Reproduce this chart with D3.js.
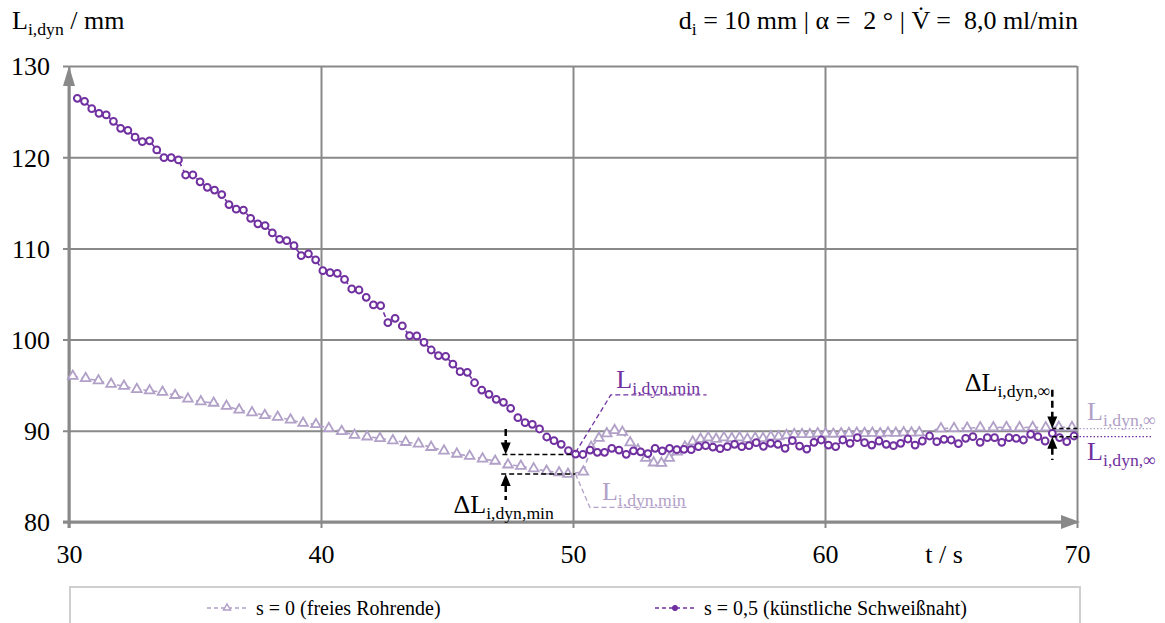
<!DOCTYPE html>
<html>
<head>
<meta charset="utf-8">
<script src="https://cdn.jsdelivr.net/npm/d3@7"></script>
<style>
  body { margin: 0; background: #fff; }
  svg text { font-family: "Liberation Serif", "Times New Roman", Times, "DejaVu Serif", serif !important; white-space: pre; }
</style>
</head>
<body>
<svg id="chart" width="1165" height="623"></svg>
<script>
// ---- data -------------------------------------------------------------
const xTicks = [30, 40, 50, 60, 70];
const yTicks = [80, 90, 100, 110, 120, 130];

// s = 0,5 (künstliche Schweißnaht): constant frame step
const weldStart = 30.33;
const weldStep = 0.2866;
const weldValues = [
  126.46, 126.13, 125.32, 124.81, 124.63, 123.93, 123.17, 122.95, 122.2, 121.7,
  121.8, 120.8, 119.95, 119.95, 119.7, 118.05, 118.05, 117.3, 116.7, 116.4,
  115.9, 114.8, 114.3, 114.2, 113.3, 112.7, 112.5, 111.7, 111.0, 110.85,
  110.3, 109.2, 109.4, 108.75, 107.56, 107.34, 107.27, 106.6, 105.55, 105.44,
  104.64, 103.8, 103.72, 101.86, 102.33, 101.5, 100.43, 100.4, 99.7, 98.86,
  98.24, 98.17, 97.3, 96.48, 96.41, 95.27, 94.47, 94.0, 93.45, 93.12,
  92.46, 91.44, 90.89, 90.71, 90.2, 89.32, 88.92, 88.52, 87.82, 87.45,
  87.4, 87.89, 87.64, 87.64, 88.08, 87.89, 87.42, 87.8, 87.7, 87.5,
  88.08, 87.8, 88.08, 87.93, 87.97, 87.93, 88.26, 88.37, 88.22, 88.04,
  88.26, 88.52, 88.26, 88.37, 88.7, 88.3, 88.63, 88.52, 88.08, 88.92,
  88.33, 88.0, 88.74, 88.99, 88.44, 88.26, 88.99, 88.63, 89.25, 88.7,
  88.44, 88.88, 88.52, 88.37, 88.63, 89.1, 88.44, 88.88, 89.43, 88.81,
  89.07, 88.99, 88.59, 89.18, 89.36, 88.74, 89.25, 89.25, 88.74, 89.25,
  89.18, 88.99, 89.61, 89.36, 88.88, 89.72, 89.25, 88.81, 89.43
];

// s = 0 (freies Rohrende): time stamps and lengths
const freeTimes = [
  30.15, 30.66, 31.17, 31.67, 32.18, 32.69, 33.2, 33.71, 34.21, 34.72,
  35.23, 35.74, 36.25, 36.75, 37.26, 37.77, 38.28, 38.79, 39.29, 39.8,
  40.31, 40.82, 41.33, 41.83, 42.34, 42.85, 43.36, 43.87, 44.37, 44.88,
  45.39, 45.9, 46.41, 46.91, 47.42, 47.93, 48.44, 48.95, 49.45, 49.8,
  50.41, 50.72, 51.03, 51.34, 51.65, 51.96, 52.27, 52.58, 52.89, 53.2,
  53.51, 53.82, 54.13, 54.44, 54.75, 55.06, 55.37, 55.68, 55.99, 56.3,
  56.61, 56.92, 57.23, 57.54, 57.85, 58.16, 58.47, 58.78, 59.09, 59.4,
  59.71, 60.02, 60.33, 60.64, 60.95, 61.26, 61.57, 61.88, 62.19, 62.5,
  62.81, 63.12, 63.43, 63.74, 64.6, 65.12, 65.64, 66.16, 66.68, 67.2,
  67.72, 68.24, 68.76, 69.28, 69.8
];
const freeValues = [
  96.0, 95.75, 95.5, 95.13, 94.9, 94.55, 94.4, 94.25, 93.9, 93.5,
  93.2, 93.05, 92.7, 92.3, 92.0, 91.7, 91.5, 91.2, 90.85, 90.7,
  90.27, 89.95, 89.52, 89.35, 89.18, 88.93, 88.75, 88.57, 88.2, 87.8,
  87.46, 87.22, 86.93, 86.69, 86.28, 86.14, 85.85, 85.59, 85.41, 85.26,
  85.5, 88.2, 89.2, 89.7, 90.05, 89.85, 88.7, 87.9, 87.0, 86.5,
  86.45, 87.0, 87.7, 88.25, 88.8, 89.1, 89.25, 89.1, 89.25, 89.18,
  89.25, 89.1, 89.2, 89.18, 89.36, 89.36, 89.5, 89.6, 89.6, 89.6,
  89.7, 89.7, 89.65, 89.7, 89.72, 89.75, 89.72, 89.75, 89.7, 89.78,
  89.75, 89.8, 89.78, 89.8, 90.25, 90.27, 90.3, 90.35, 90.35, 90.38,
  90.36, 90.38, 90.35, 90.4, 90.38
];

// steady-state levels
const steadyFree = 90.24;
const steadyWeld = 89.36;

// ---- setup ------------------------------------------------------------
const colWeld = "#7030a0";
const colFree = "#b1a0c7";
const colGrid = "#898989";
const serif = "'Liberation Serif', 'Times New Roman', Times, serif";

const svg = d3.select("#chart");
const x = d3.scaleLinear().domain([30, 70]).range([69, 1077]);
const y = d3.scaleLinear().domain([80, 130]).range([522, 66]);

const weld = weldValues.map((v, i) => ({ t: weldStart + i * weldStep, v }));
const free = freeValues.map((v, i) => ({ t: freeTimes[i], v }));

// ---- grid & axes ------------------------------------------------------
const xAxis = d3.axisBottom(x).tickValues(xTicks).tickSize(0).tickFormat(d3.format("d"));
const gx = svg.append("g").attr("transform", `translate(0,${y(80)})`).call(xAxis)
  .attr("font-family", serif).attr("font-size", 26);
gx.select(".domain").remove();
gx.selectAll(".tick line")
  .attr("y1", 6).attr("y2", y(130) - y(80))
  .attr("stroke", colGrid).attr("stroke-width", 2);
gx.selectAll(".tick text")
  .attr("y", 41).attr("dy", 0).attr("fill", "#000");

const yAxis = d3.axisLeft(y).tickValues(yTicks).tickSize(0).tickFormat(d3.format("d"));
const gy = svg.append("g").attr("transform", `translate(${x(30)},0)`).call(yAxis)
  .attr("font-family", serif).attr("font-size", 26);
gy.select(".domain").remove();
gy.selectAll(".tick line")
  .attr("x1", -6).attr("x2", x(70) - x(30))
  .attr("stroke", colGrid).attr("stroke-width", 2);
gy.selectAll(".tick text")
  .attr("x", -19).attr("dy", "0.34em").attr("fill", "#000");

// axis lines with arrow heads
svg.append("line")
  .attr("x1", x(30) - 6).attr("x2", x(70) - 14)
  .attr("y1", y(80)).attr("y2", y(80))
  .attr("stroke", colGrid).attr("stroke-width", 3);
svg.append("path")
  .attr("d", `M${x(70) - 16},${y(80) - 7} L${x(70) + 3},${y(80)} L${x(70) - 16},${y(80) + 7} Z`)
  .attr("fill", colGrid);
svg.append("line")
  .attr("x1", x(30)).attr("x2", x(30))
  .attr("y1", y(80) + 6).attr("y2", y(130) + 16)
  .attr("stroke", colGrid).attr("stroke-width", 3);
svg.append("path")
  .attr("d", `M${x(30) - 6},${y(130) + 20} L${x(30)},${y(130)} L${x(30) + 6},${y(130) + 20} Z`)
  .attr("fill", colGrid);

svg.append("text").attr("x", 944).attr("y", y(80) + 41).attr("text-anchor", "middle")
  .attr("font-family", serif).attr("font-size", 26).text("t / s");

// ---- text helper with subscript ---------------------------------------
function label(g, px, py, parts, opts = {}) {
  const t = g.append("text").attr("x", px).attr("y", py)
    .attr("font-family", serif)
    .attr("font-size", opts.size || 26)
    .attr("fill", opts.color || "#000")
    .attr("text-anchor", opts.anchor || "start");
  let shifted = false;
  parts.forEach(p => {
    if (p.sub) {
      t.append("tspan").attr("font-size", "0.68em").attr("dy", 6).text(p.sub);
      shifted = true;
    } else {
      const s = t.append("tspan").text(p.t);
      if (shifted) { s.attr("dy", -6); shifted = false; }
    }
  });
  return t;
}

// headers
label(svg, 12, 29, [{ t: "L" }, { sub: "i,dyn" }, { t: " / mm" }]);
label(svg, 1078, 29,
  [{ t: "d" }, { sub: "i" }, { t: " = 10 mm | \u03b1 =  2 \u00b0 | V\u0307 =  8,0 ml/min" }],
  { anchor: "end" });

// ---- series -----------------------------------------------------------
const lineGen = d3.line().x(d => x(d.t)).y(d => y(d.v));

svg.append("path").datum(free).attr("d", lineGen)
  .attr("fill", "none").attr("stroke", colFree).attr("stroke-width", 1.6)
  .attr("stroke-dasharray", "5,4");
const triSym = d3.symbol().type(d3.symbolTriangle).size(40);
svg.append("g").selectAll("path").data(free).join("path")
  .attr("transform", d => `translate(${x(d.t)},${y(d.v)})`)
  .attr("d", triSym)
  .attr("fill", "#fff").attr("stroke", colFree).attr("stroke-width", 1.8);

svg.append("path").datum(weld).attr("d", lineGen)
  .attr("fill", "none").attr("stroke", colWeld).attr("stroke-width", 1.6)
  .attr("stroke-dasharray", "5,4");
svg.append("g").selectAll("circle").data(weld).join("circle")
  .attr("cx", d => x(d.t)).attr("cy", d => y(d.v)).attr("r", 3.4)
  .attr("fill", "#fff").attr("stroke", colWeld).attr("stroke-width", 2);

// ---- annotations ------------------------------------------------------
const ann = svg.append("g");
const weldMin = d3.min(weldValues);
const freeMin = d3.min(freeValues);

function arrowHead(px, tipY, dir) {
  // dir = +1: pointing down, -1: pointing up
  ann.append("path")
    .attr("d", `M${px - 5},${tipY - dir * 12} L${px},${tipY} L${px + 5},${tipY - dir * 12} Z`)
    .attr("fill", "#000");
}
function dashed(x1, y1, x2, y2, color, w, dash) {
  ann.append("line").attr("x1", x1).attr("y1", y1).attr("x2", x2).attr("y2", y2)
    .attr("stroke", color).attr("stroke-width", w).attr("stroke-dasharray", dash);
}

// ΔL_i,dyn,min
const aX = x(47.33);
dashed(x(47.2), y(weldMin), x(50.0), y(weldMin), "#000", 1.5, "5,3");
dashed(x(47.15), y(freeMin), x(50.1), y(freeMin), "#000", 1.5, "5,3");
dashed(aX, y(90.2), aX, y(weldMin) - 11, "#000", 2.5, "7,4");
arrowHead(aX, y(weldMin), 1);
arrowHead(aX, y(freeMin), -1);
dashed(aX, y(freeMin) + 11, aX, y(82.4), "#000", 2.5, "7,4");
label(ann, x(47.25), y(81.0), [{ t: "\u0394L" }, { sub: "i,dyn,min" }], { anchor: "middle" });

// L_i,dyn,min leaders
ann.append("path")
  .attr("d", `M${x(50.1)},${y(weldMin) - 2} L${x(51.5)},${y(93.93)} L${x(55.3)},${y(93.93)}`)
  .attr("fill", "none").attr("stroke", colWeld).attr("stroke-width", 1.3).attr("stroke-dasharray", "5,3");
label(ann, x(51.72), y(93.93) - 7, [{ t: "L" }, { sub: "i,dyn,min" }], { color: colWeld });
ann.append("path")
  .attr("d", `M${x(50.1)},${y(freeMin)} L${x(50.67)},${y(81.6)} L${x(54.6)},${y(81.6)}`)
  .attr("fill", "none").attr("stroke", colFree).attr("stroke-width", 1.3).attr("stroke-dasharray", "5,3");
label(ann, x(51.15), y(81.6) - 7, [{ t: "L" }, { sub: "i,dyn,min" }], { color: colFree });

// ΔL_i,dyn,∞
const bX = x(69.02);
dashed(bX, y(94.5), bX, y(steadyFree) - 11, "#000", 2.5, "7,4");
arrowHead(bX, y(steadyFree), 1);
arrowHead(bX, y(steadyWeld), -1);
dashed(bX, y(steadyWeld) + 11, bX, y(86.8), "#000", 2.5, "7,4");
dashed(bX, y(steadyFree), x(70.1), y(steadyFree), "#000", 1.5, "4,3");
dashed(bX, y(steadyWeld), x(70.1), y(steadyWeld), "#000", 1.5, "4,3");
dashed(x(70.1), y(steadyFree), x(73.0), y(steadyFree), colFree, 1.3, "1.5,2");
dashed(x(70.1), y(steadyWeld), x(73.0), y(steadyWeld), colWeld, 1.3, "1.5,2");
label(ann, bX - 2, y(94.35), [{ t: "\u0394L" }, { sub: "i,dyn,\u221e" }], { anchor: "end" });
label(ann, x(70.4), y(91.15), [{ t: "L" }, { sub: "i,dyn,\u221e" }], { color: colFree });
label(ann, x(70.4), y(86.8), [{ t: "L" }, { sub: "i,dyn,\u221e" }], { color: colWeld });

// ---- legend -----------------------------------------------------------
const lg = svg.append("g");
lg.append("rect").attr("x", 70).attr("y", 587).attr("width", 1010).attr("height", 60)
  .attr("fill", "#fff").attr("stroke", "#cfcfcf").attr("stroke-width", 2);
const legendItems = [
  { x0: 207, color: colFree, kind: "tri", text: "s = 0 (freies Rohrende)" },
  { x0: 655, color: colWeld, kind: "circ", text: "s = 0,5 (künstliche Schweißnaht)" }
];
legendItems.forEach(it => {
  lg.append("line").attr("x1", it.x0).attr("x2", it.x0 + 41).attr("y1", 608).attr("y2", 608)
    .attr("stroke", it.color).attr("stroke-width", 1.6).attr("stroke-dasharray", "4,3");
  if (it.kind === "tri") {
    lg.append("path").attr("transform", `translate(${it.x0 + 20},608)`)
      .attr("d", d3.symbol().type(d3.symbolTriangle).size(22))
      .attr("fill", "#fff").attr("stroke", it.color).attr("stroke-width", 1.4);
  } else {
    lg.append("circle").attr("cx", it.x0 + 20).attr("cy", 608).attr("r", 2.6)
      .attr("fill", it.color).attr("stroke", it.color).attr("stroke-width", 1);
  }
  lg.append("text").attr("x", it.x0 + 49).attr("y", 615)
    .attr("font-family", serif).attr("font-size", 20).text(it.text);
});
</script>
</body>
</html>
